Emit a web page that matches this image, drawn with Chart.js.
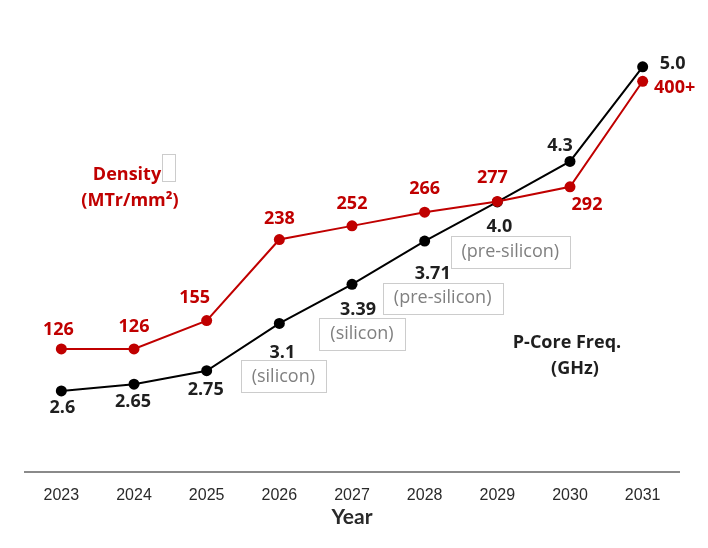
<!DOCTYPE html>
<html>
<head>
<meta charset="utf-8">
<script src="https://cdn.jsdelivr.net/npm/chart.js@4.4.1/dist/chart.umd.min.js"></script>
<style>
    html, body { margin: 0; padding: 0; background: #fff; }
</style>
</head>
<body>
<canvas id="roadmapChart" width="708" height="548"></canvas>
<script>
// Data
const years = ['2023', '2024', '2025', '2026', '2027', '2028', '2029', '2030', '2031'];
const density = [126, 126, 155, 238, 252, 266, 277, 292, 400];
const densityText = ['126', '126', '155', '238', '252', '266', '277', '292', '400+'];
const freq = [2.6, 2.65, 2.75, 3.1, 3.39, 3.71, 4.0, 4.3, 5.0];
const freqText = ['2.6', '2.65', '2.75', '3.1', '3.39', '3.71', '4.0', '4.3', '5.0'];
const freqNotes = ['', '', '', '(silicon)', '(silicon)', '(pre-silicon)', '(pre-silicon)', '', ''];

const RED = '#c00000';
const DARK = '#1f1f1f';
const LABEL_FONT = '"Open Sans", "DejaVu Sans", sans-serif';

// Label offsets from each point (dx, dy) - hand tuned to match the slide
const densityOffsets = [[-3, -19], [0, -22], [-12, -23], [0, -21], [0, -22], [0, -23], [-5, -24], [17, 18], [32, 7]];
const freqOffsets = [[1, 17], [-1, 18], [-1, 19], [3, 29], [6, 26], [8, 33], [2, 25], [-10, -16], [30, -3]];
// note boxes: center offset + size
const noteBoxes = [null, null, null, [4, 53, 85, 32], [10, 50, 86, 32], [18, 57, 120, 31], [13, 50, 119, 32], null, null];

// Draws value labels, note boxes and the two series titles
const labelsPlugin = {
    id: 'roadmapLabels',
    afterDatasetsDraw(chart) {
        const ctx = chart.ctx;
        const area = chart.chartArea;
        ctx.save();
        ctx.textAlign = 'center';
        ctx.textBaseline = 'middle';

        // note boxes under the frequency points
        const freqMeta = chart.getDatasetMeta(1);
        freqMeta.data.forEach((pt, i) => {
            const box = noteBoxes[i];
            if (!box) return;
            const cx = pt.x + box[0], cy = pt.y + box[1];
            ctx.fillStyle = '#fff';
            ctx.fillRect(cx - box[2] / 2, cy - box[3] / 2, box[2], box[3]);
            ctx.strokeStyle = '#cccccc';
            ctx.lineWidth = 1;
            ctx.strokeRect(Math.round(cx - box[2] / 2) + 0.5, Math.round(cy - box[3] / 2) + 0.5, box[2], box[3]);
            ctx.fillStyle = '#808080';
            ctx.font = '18px ' + LABEL_FONT;
            ctx.fillText(freqNotes[i], cx, cy);
        });

        ctx.font = 'bold 18px ' + LABEL_FONT;
        ctx.fillStyle = DARK;
        freqMeta.data.forEach((pt, i) => {
            ctx.fillText(freqText[i], pt.x + freqOffsets[i][0], pt.y + freqOffsets[i][1]);
        });

        const densMeta = chart.getDatasetMeta(0);
        ctx.fillStyle = RED;
        densMeta.data.forEach((pt, i) => {
            ctx.fillText(densityText[i], pt.x + densityOffsets[i][0], pt.y + densityOffsets[i][1]);
        });

        // series titles
        ctx.fillStyle = RED;
        ctx.fillText('Density', area.left + 102, area.top + 123);
        ctx.fillText('(MTr/mm²)', area.left + 105, area.top + 149);
        ctx.strokeStyle = '#cccccc';
        ctx.lineWidth = 1;
        ctx.strokeRect(area.left + 137.5, area.top + 102.5, 13, 27);

        ctx.fillStyle = DARK;
        ctx.fillText('P-Core Freq.', area.left + 542, area.top + 291);
        ctx.fillText('(GHz)', area.left + 550, area.top + 317);
        ctx.restore();
    }
};

const ctx = document.getElementById('roadmapChart').getContext('2d');
new Chart(ctx, {
    type: 'line',
    data: {
        labels: years,
        datasets: [
            {
                label: 'Density (MTr/mm²)',
                data: density,
                yAxisID: 'yDensity',
                borderColor: RED,
                backgroundColor: RED,
                borderWidth: 2,
                pointRadius: 5.5,
                pointBorderWidth: 0,
                tension: 0
            },
            {
                label: 'P-Core Freq. (GHz)',
                data: freq,
                yAxisID: 'yFreq',
                borderColor: '#000',
                backgroundColor: '#000',
                borderWidth: 2,
                pointRadius: 5.5,
                pointBorderWidth: 0,
                tension: 0
            }
        ]
    },
    options: {
        responsive: false,
        animation: false,
        layout: { padding: { top: 52, left: 25, right: 29, bottom: 10 } },
        plugins: {
            legend: { display: false },
            tooltip: { enabled: false }
        },
        scales: {
            x: {
                offset: true,
                grid: { display: false, drawTicks: false },
                border: { display: true, color: '#8a8a8a', width: 2 },
                ticks: {
                    color: '#2a2a2a',
                    padding: 14,
                    font: { family: '"Liberation Sans", Arial, sans-serif', size: 16 }
                },
                title: {
                    display: true,
                    text: 'Year',
                    color: '#2a2a2a',
                    padding: { top: 0, bottom: 8 },
                    font: { family: 'Lato, sans-serif', size: 21, weight: 'bold' }
                },
                afterFit(scale) { scale.height = 66; }
            },
            yDensity: { display: false, min: 0, max: 430 },
            yFreq: { display: false, min: 2, max: 5.11 }
        }
    },
    plugins: [labelsPlugin]
});
</script>
</body>
</html>
